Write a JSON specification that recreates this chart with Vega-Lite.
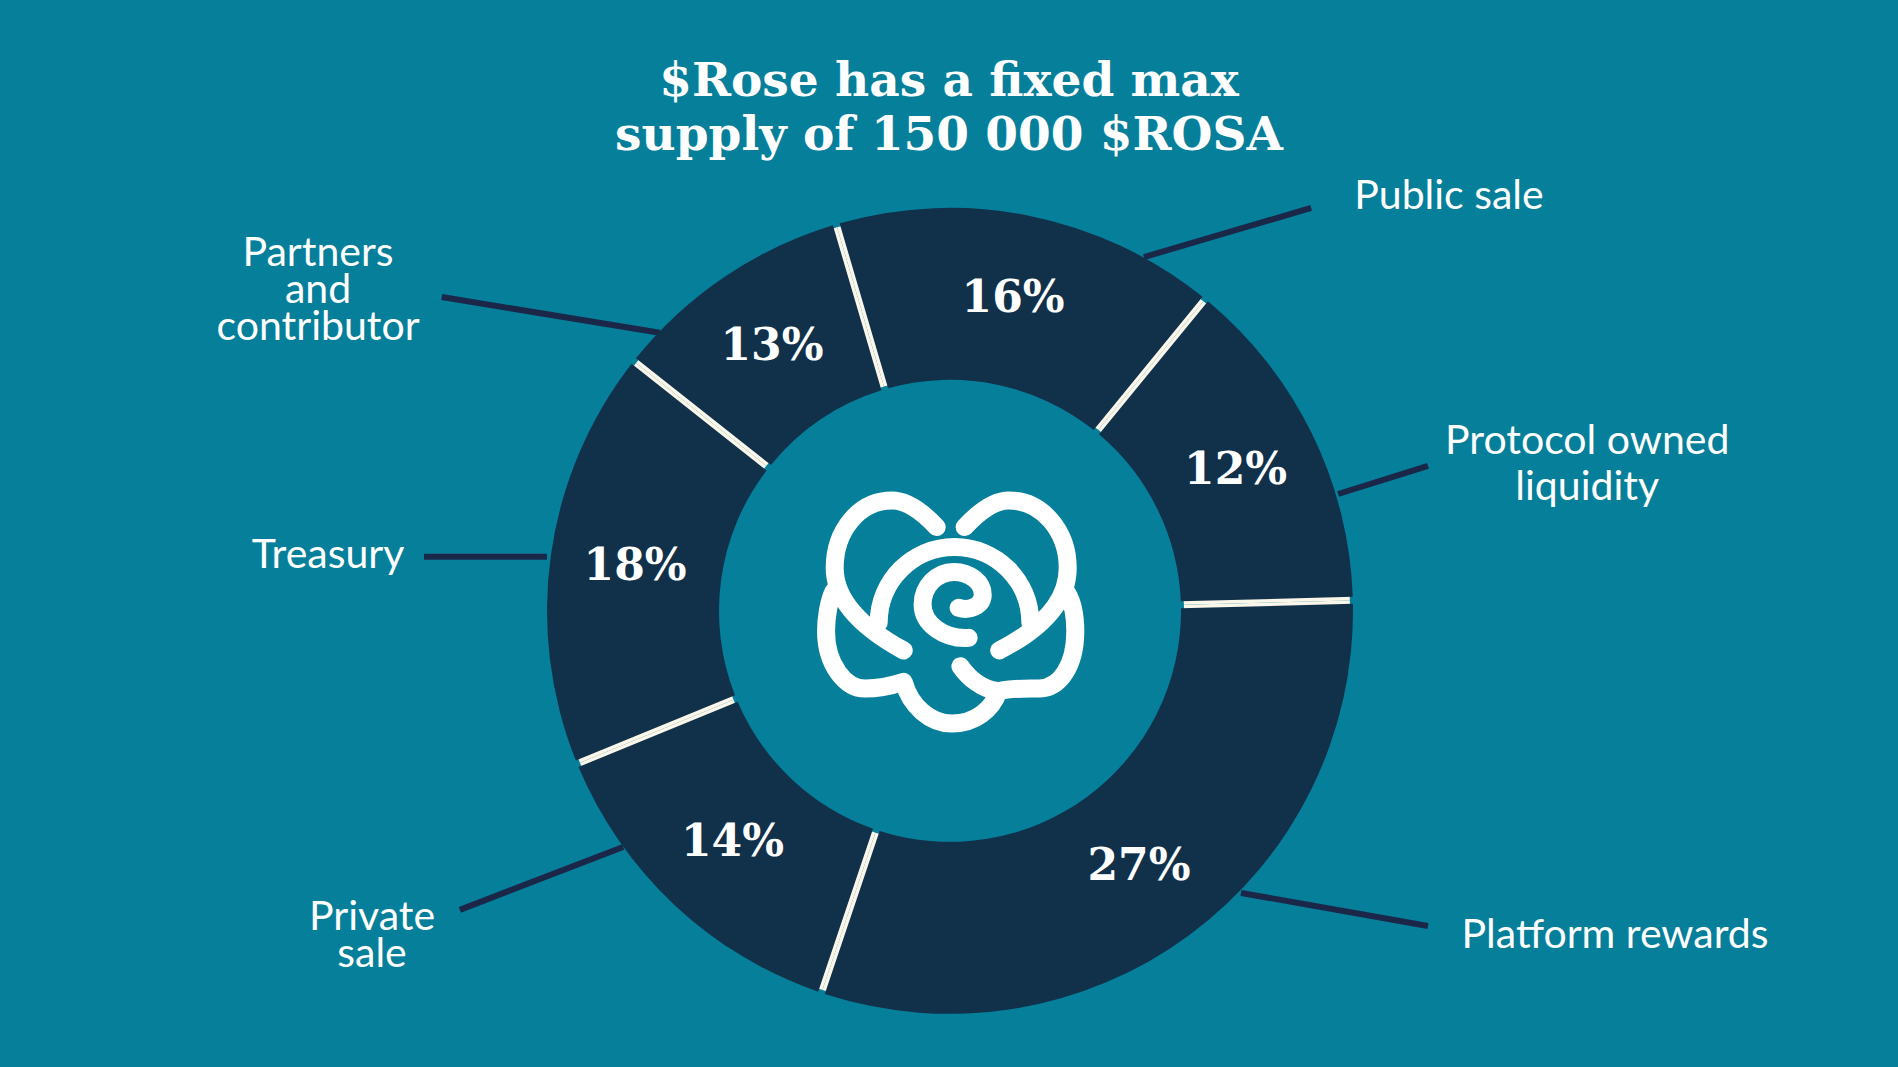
{
  "$schema": "https://vega.github.io/schema/vega-lite/v6.json",
  "width": 1898,
  "height": 1067,
  "padding": 0,
  "autosize": {"type": "none"},
  "background": "#067f9b",
  "view": {"stroke": null},
  "config": {"font": "Lato"},
  "title": {
    "text": ["$Rose has a  fixed max", "supply of 150 000 $ROSA"],
    "orient": "top",
    "anchor": "middle",
    "frame": "group",
    "offset": -197,
    "baseline": "alphabetic",
    "lineHeight": 54,
    "font": "DejaVu Serif",
    "fontWeight": "bold",
    "fontSize": 47,
    "color": "#ffffff"
  },
  "datasets": {
    "slices": [
      {"seq": 1, "segment": "Public sale", "pct": "16%", "arc_deg": 55.7},
      {"seq": 2, "segment": "Protocol owned liquidity", "pct": "12%", "arc_deg": 49.2},
      {"seq": 3, "segment": "Platform rewards", "pct": "27%", "arc_deg": 110.1},
      {"seq": 4, "segment": "Private sale", "pct": "14%", "arc_deg": 49.1},
      {"seq": 5, "segment": "Treasury", "pct": "18%", "arc_deg": 60.6},
      {"seq": 6, "segment": "Partners and contributor", "pct": "13%", "arc_deg": 35.3}
    ],
    "callouts": [
      {"segment": "Public sale", "lines": ["Public sale"], "lx": 123.8, "ly": 102.7, "x1": 48.1, "y1": 87.8, "x2": 89.6, "y2": 100.0},
      {"segment": "Protocol owned liquidity", "lines": ["Protocol owned", "liquidity"], "lx": 158.1, "ly": 41.9, "x1": 96.3, "y1": 29.0, "x2": 118.6, "y2": 36.0},
      {"segment": "Platform rewards", "lines": ["Platform rewards"], "lx": 165.0, "ly": -80.6, "x1": 72.2, "y1": -70.0, "x2": 118.6, "y2": -78.2},
      {"segment": "Private sale", "lines": ["Private", "sale"], "lx": -143.4, "ly": -76.2, "x1": -81.1, "y1": -58.6, "x2": -121.6, "y2": -74.2},
      {"segment": "Treasury", "lines": ["Treasury"], "lx": -154.3, "ly": 13.6, "x1": -100.0, "y1": 13.4, "x2": -130.5, "y2": 13.4},
      {"segment": "Partners and contributor", "lines": ["Partners", "and", "contributor"], "lx": -156.8, "ly": 88.5, "x1": -72.0, "y1": 69.0, "x2": -126.1, "y2": 77.9}
    ]
  },
  "layer": [
    {
      "data": {"name": "callouts"},
      "mark": {"type": "rule", "color": "#1b2748", "strokeWidth": 6},
      "encoding": {
        "x": {"field": "x1", "type": "quantitative", "scale": {"domain": [-235.7, 235.2], "nice": false, "zero": false}, "axis": null},
        "y": {"field": "y1", "type": "quantitative", "scale": {"domain": [-113.2, 151.6], "nice": false, "zero": false}, "axis": null},
        "x2": {"field": "x2"},
        "y2": {"field": "y2"}
      }
    },
    {
      "data": {"name": "slices"},
      "mark": {"type": "arc", "radius": 400, "radius2": 234, "color": "#fbf6ea"},
      "encoding": {
        "x": {"datum": 0, "type": "quantitative"},
        "y": {"datum": 0, "type": "quantitative"},
        "theta": {"field": "arc_deg", "type": "quantitative", "stack": true, "scale": {"domain": [0, 360], "range": [-0.28623, 5.99696]}},
        "order": {"field": "seq", "type": "quantitative"}
      }
    },
    {
      "data": {"name": "slices"},
      "mark": {"type": "arc", "radius": 403, "radius2": 231, "padAngle": 0.015, "color": "#11314b"},
      "encoding": {
        "x": {"datum": 0, "type": "quantitative"},
        "y": {"datum": 0, "type": "quantitative"},
        "theta": {"field": "arc_deg", "type": "quantitative", "stack": true, "scale": {"domain": [0, 360], "range": [-0.28623, 5.99696]}},
        "order": {"field": "seq", "type": "quantitative"}
      }
    },
    {
      "data": {"name": "slices"},
      "mark": {"type": "text", "radius": 318, "font": "DejaVu Serif", "fontWeight": "bold", "fontSize": 44, "color": "#ffffff", "align": "center", "baseline": "middle"},
      "encoding": {
        "x": {"datum": 0, "type": "quantitative"},
        "y": {"datum": 0, "type": "quantitative"},
        "theta": {"field": "arc_deg", "type": "quantitative", "stack": true, "scale": {"domain": [0, 360], "range": [-0.28623, 5.99696]}},
        "order": {"field": "seq", "type": "quantitative"},
        "text": {"field": "pct"}
      }
    },
    {
      "data": {"name": "callouts"},
      "transform": [{"filter": "datum.segment !== 'Protocol owned liquidity'"}],
      "mark": {"type": "text", "font": "Lato", "fontSize": 41, "color": "#ffffff", "align": "center", "baseline": "middle", "lineHeight": 37},
      "encoding": {
        "x": {"field": "lx", "type": "quantitative"},
        "y": {"field": "ly", "type": "quantitative"},
        "text": {"field": "lines"}
      }
    },
    {
      "data": {"name": "callouts"},
      "transform": [{"filter": "datum.segment === 'Protocol owned liquidity'"}],
      "mark": {"type": "text", "font": "Lato", "fontSize": 41, "color": "#ffffff", "align": "center", "baseline": "middle", "lineHeight": 46},
      "encoding": {
        "x": {"field": "lx", "type": "quantitative"},
        "y": {"field": "ly", "type": "quantitative"},
        "text": {"field": "lines"}
      }
    },
    {
      "data": {"values": [{"logo": "rose"}]},
      "mark": {
        "type": "point",
        "shape": "M-0.536 0.090 A0.564 0.564 0 1 1 0.604 0.090 M-0.100 -0.630 C-0.200 -0.737 -0.323 -0.830 -0.436 -0.830 C-0.687 -0.830 -0.867 -0.599 -0.867 -0.323 C-0.867 -0.048 -0.612 0.153 -0.348 0.298 M0.110 -0.630 C0.210 -0.737 0.328 -0.830 0.441 -0.830 C0.692 -0.830 0.885 -0.599 0.885 -0.323 C0.885 -0.048 0.652 0.153 0.370 0.298 M-0.875 -0.148 C-0.912 -0.073 -0.932 0.053 -0.932 0.153 C-0.932 0.404 -0.787 0.584 -0.637 0.584 C-0.524 0.584 -0.411 0.554 -0.348 0.534 C-0.298 0.717 -0.148 0.847 0.015 0.847 C0.190 0.847 0.316 0.742 0.366 0.604 C0.466 0.579 0.566 0.584 0.667 0.584 C0.830 0.584 0.942 0.404 0.942 0.153 C0.942 0.028 0.917 -0.073 0.880 -0.135 M0.078 0.416 C0.140 0.504 0.241 0.591 0.366 0.604 M0.140 0.203 C-0.035 0.216 -0.206 0.103 -0.206 -0.048 C-0.206 -0.185 -0.098 -0.293 0.028 -0.293 C0.153 -0.293 0.246 -0.211 0.246 -0.123 C0.246 -0.035 0.140 0.003 0.065 -0.023",
        "size": 70756,
        "filled": false,
        "stroke": "#ffffff",
        "strokeWidth": 18,
        "strokeCap": "round",
        "strokeJoin": "round",
        "opacity": 1
      },
      "encoding": {
        "x": {"datum": 0, "type": "quantitative"},
        "y": {"datum": 0, "type": "quantitative"}
      }
    }
  ]
}
